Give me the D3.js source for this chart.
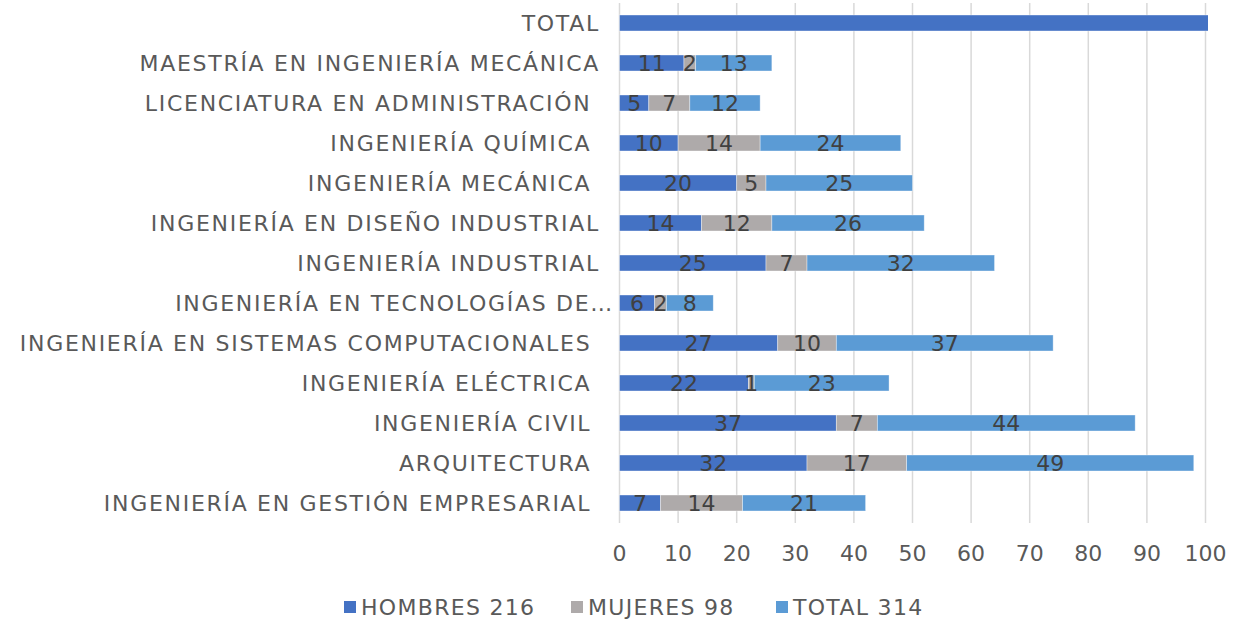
<!DOCTYPE html>
<html>
<head>
<meta charset="utf-8">
<script src="https://cdn.jsdelivr.net/npm/d3@7"></script>
<style>
  body { margin: 0; background: #fff; }
  text { font-family: "DejaVu Sans", sans-serif; white-space: pre; }
</style>
</head>
<body>
<div id="canvas"></div>
<script>
// categories, top to bottom (trailing spaces kept as in the source sheet)
const categories = [
  "TOTAL",
  "MAESTRÍA EN INGENIERÍA MECÁNICA",
  "LICENCIATURA EN ADMINISTRACIÓN ",
  "INGENIERÍA QUÍMICA ",
  "INGENIERÍA MECÁNICA ",
  "INGENIERÍA EN DISEÑO INDUSTRIAL",
  "INGENIERÍA INDUSTRIAL",
  "INGENIERÍA EN TECNOLOGÍAS DE…",
  "INGENIERÍA EN SISTEMAS COMPUTACIONALES ",
  "INGENIERÍA ELÉCTRICA ",
  "INGENIERÍA CIVIL ",
  "ARQUITECTURA ",
  "INGENIERÍA EN GESTIÓN EMPRESARIAL "
];
const hombres = [216, 11, 5, 10, 20, 14, 25, 6, 27, 22, 37, 32, 7];
const mujeres = [98, 2, 7, 14, 5, 12, 7, 2, 10, 1, 7, 17, 14];
const total   = [314, 13, 12, 24, 25, 26, 32, 8, 37, 23, 44, 49, 21];
const seriesNames = ["HOMBRES 216", "MUJERES 98", "TOTAL 314"];
const xTicks = [0, 10, 20, 30, 40, 50, 60, 70, 80, 90, 100];

const colors = ["#4472C4", "#AEAAAA", "#5B9BD5"];
const W = 1238, H = 620;

const svg = d3.select("#canvas")
  .append("svg")
  .attr("width", W)
  .attr("height", H);

const x = d3.scaleLinear().domain([0, 100]).range([619.5, 1205.5]);
const y = d3.scaleBand().domain(categories).range([3, 523]).paddingInner(0.6).paddingOuter(0.3);

// gridlines
svg.append("g")
  .selectAll("line")
  .data(xTicks)
  .join("line")
  .attr("x1", d => x(d)).attr("x2", d => x(d))
  .attr("y1", 3).attr("y2", 523)
  .attr("stroke", "#D9D9D9")
  .attr("stroke-width", 1.5);

// tick labels
svg.append("g")
  .selectAll("text")
  .data(xTicks)
  .join("text")
  .attr("x", d => x(d))
  .attr("y", 561)
  .attr("text-anchor", "middle")
  .attr("font-size", 22)
  .attr("fill", "#595959")
  .text(d => d);

// category labels
svg.append("g")
  .selectAll("text")
  .data(categories)
  .join("text")
  .attr("x", d => d.endsWith("…") ? 614 : 600)
  .attr("y", d => y(d) + y.bandwidth() / 2 + 8)
  .attr("text-anchor", "end")
  .attr("font-size", 22)
  .attr("letter-spacing", 1.7)
  .attr("fill", "#595959")
  .text(d => d);

// stacked data
const rows = categories.map((c, i) => ({ cat: c, h: hombres[i], m: mujeres[i], t: total[i] }));
const stack = d3.stack().keys(["h", "m", "t"])(rows);

svg.append("clipPath").attr("id", "plot")
  .append("rect").attr("x", 600).attr("y", 0).attr("width", x(100) + 2.5 - 600).attr("height", 530);

const plot = svg.append("g").attr("clip-path", "url(#plot)");

stack.forEach((layer, k) => {
  plot.append("g")
    .selectAll("rect")
    .data(layer)
    .join("rect")
    .attr("x", d => x(d[0]))
    .attr("y", d => y(d.data.cat))
    .attr("width", d => x(d[1]) - x(d[0]))
    .attr("height", y.bandwidth())
    .attr("fill", colors[k])
    .attr("stroke", "#fff")
    .attr("stroke-opacity", 0.5)
    .attr("stroke-width", 0.75);
});

stack.forEach((layer) => {
  plot.append("g")
    .selectAll("text")
    .data(layer.filter(d => d.data.cat !== "TOTAL"))
    .join("text")
    .attr("x", d => x((d[0] + d[1]) / 2))
    .attr("y", d => y(d.data.cat) + y.bandwidth() / 2 + 8)
    .attr("text-anchor", "middle")
    .attr("font-size", 22)
    .attr("fill", "#404040")
    .text(d => d[1] - d[0]);
});

// legend
const legendX = [344, 571, 776];
const legend = svg.append("g");
seriesNames.forEach((name, i) => {
  legend.append("rect")
    .attr("x", legendX[i]).attr("y", 601)
    .attr("width", 12).attr("height", 12)
    .attr("fill", colors[i]);
  legend.append("text")
    .attr("x", legendX[i] + 17).attr("y", 615)
    .attr("font-size", 22)
    .attr("letter-spacing", 1.3)
    .attr("fill", "#595959")
    .text(name);
});
</script>
</body>
</html>
